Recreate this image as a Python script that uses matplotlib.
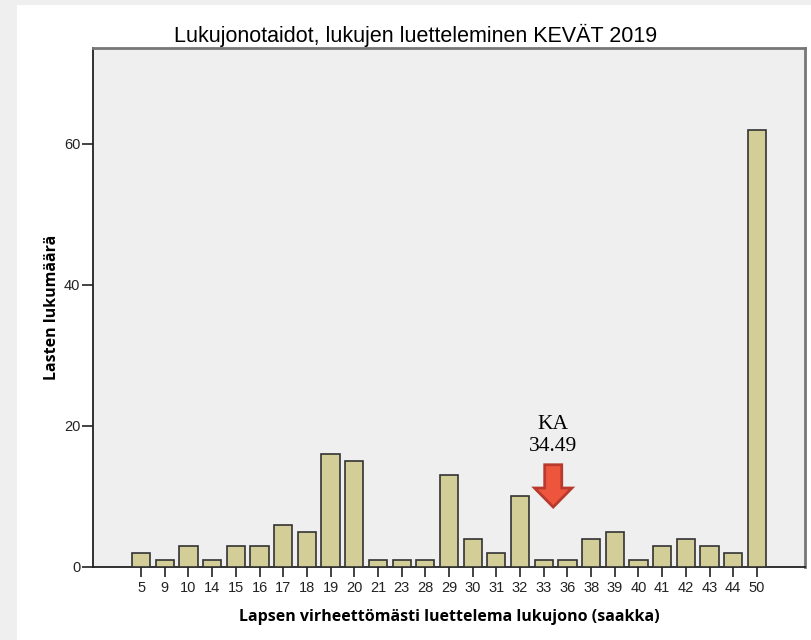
import matplotlib
matplotlib.use("Agg")
import matplotlib.pyplot as plt
from matplotlib.patches import Rectangle, FancyArrow
import numpy as np

categories = ["5", "9", "10", "14", "15", "16", "17", "18", "19", "20", "21", "23",
              "28", "29", "30", "31", "32", "33", "36", "38", "39", "40", "41", "42",
              "43", "44", "50"]
counts = [2, 1, 3, 1, 3, 3, 6, 5, 16, 15, 1, 1, 1, 13, 4, 2, 10, 1, 1, 4, 5, 1, 3, 4,
          3, 2, 62]
yticks = [0, 20, 40, 60]
title = "Lukujonotaidot, lukujen luetteleminen KEVÄT 2019"
xlabel = "Lapsen virheettömästi luettelema lukujono (saakka)"
ylabel = "Lasten lukumäärä"
mean_label = "KA"

vals = np.array([int(c) for c in categories])
cnt = np.array(counts)
mean_val = (vals * cnt).sum() / cnt.sum()

W, H = 811, 640
fig = plt.figure(figsize=(W / 100, H / 100), dpi=100)
fig.patch.set_facecolor("#efefef")
fig.patches.append(Rectangle((17 / W, 0), 1, 1 - 5 / H, transform=fig.transFigure,
                             facecolor="white", edgecolor="none", zorder=-10))

ax = fig.add_axes([93 / W, 1 - 567 / H, (805 - 93) / W, (567 - 48) / H])
ax.set_facecolor("#efefef")

x = np.arange(len(categories))
ax.bar(x, counts, width=0.77, color="#d3ce97", edgecolor="#333333", linewidth=1.2, zorder=3)

ax.set_xlim(-2.03, len(categories) - 1 + 2.03)
ax.set_ylim(0, 73.6)
ax.set_xticks(x)
ax.set_xticklabels(categories, fontsize=10.5, family="Liberation Sans", color="#222222")
ax.set_yticks(yticks)
ax.set_yticklabels([str(t) for t in yticks], fontsize=10.5, family="Liberation Sans", color="#222222")
ax.tick_params(axis="x", length=7, width=1.2, color="#222222", pad=3)
ax.tick_params(axis="y", length=8, width=1.2, color="#222222", pad=1)

for s in ["top", "right"]:
    ax.spines[s].set_color("#777777")
    ax.spines[s].set_linewidth(2)
for s in ["left", "bottom"]:
    ax.spines[s].set_color("#222222")
    ax.spines[s].set_linewidth(1.3)

ax.set_xlabel(xlabel, fontsize=11.5, fontweight="bold", family="Open Sans", labelpad=10)
ax.set_ylabel(ylabel, fontsize=11.5, fontweight="bold", family="Open Sans", labelpad=3)

fig.text(416 / W, 1 - 35 / H, title, ha="center", va="center", fontsize=15.5,
         family="Liberation Sans")

# mean annotation
mx = 17.4
ax.text(mx, 18.65, f"{mean_label}\n{mean_val:.2f}", ha="center", va="center",
        fontsize=15.5, family="Liberation Serif", linespacing=1.2, zorder=5)
arrow = FancyArrow(mx, 14.5, 0, -6.0, width=0.72, head_width=1.58, head_length=2.7,
                   length_includes_head=True, facecolor="#ee553d", edgecolor="#b83a2c",
                   linewidth=2, zorder=5)
ax.add_patch(arrow)

fig.savefig("out.png", dpi=100, facecolor=fig.get_facecolor())
